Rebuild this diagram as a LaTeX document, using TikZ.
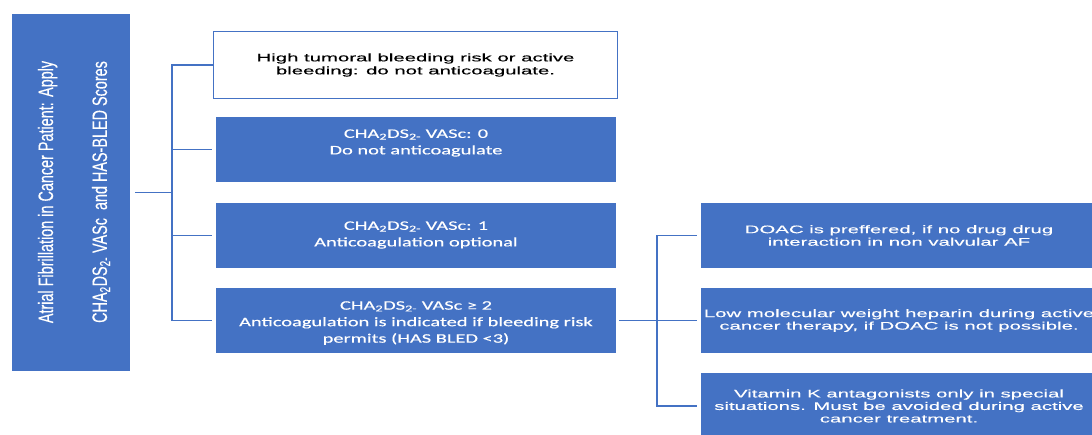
\documentclass[tikz,border=0pt]{standalone}
\usepackage{fontspec}
\setmainfont{Liberation Sans}
\newfontfamily\arialw[FakeStretch=1.85,FakeBold=0.3]{Liberation Sans}
\newfontfamily\caliw[FakeStretch=1.57,FakeBold=0.3]{Carlito}
\newfontfamily\rotfont[FakeBold=0.3]{Liberation Sans}
\definecolor{accblue}{HTML}{4472C4}
\begin{document}
\begin{tikzpicture}[x=1pt,y=-1pt,
  bluebox/.style={fill=accblue, draw=none, minimum width=400pt, minimum height=65pt, inner sep=0pt},
  btext/.style={inner sep=0pt, text=white, align=center, font=\caliw\fontsize{13}{16.5}\selectfont},
  whitebox/.style={draw=accblue, line width=1.5pt, fill=white, minimum width=404pt, minimum height=67pt, inner sep=0pt, text=black, align=center, font=\arialw\fontsize{11}{13}\selectfont},
  rbox/.style={fill=accblue, draw=none, minimum width=396pt, minimum height=65pt, inner sep=0pt, text=white, align=center, font=\arialw\fontsize{11}{12.5}\selectfont},
  conn/.style={draw=accblue, line width=1.5pt}
]
\useasboundingbox[fill=white] (0,0) rectangle (1092,434);
\clip (0,0) rectangle (1092,434);

% left box
\node[fill=accblue, minimum width=118pt, minimum height=357pt, inner sep=0pt] (lb) at (71,192.5) {};
\node[rotate=90, inner sep=0pt, text=white] (lbt) at (69.2,192) {\scalebox{1}[1.45]{\rotfont\fontsize{14.4}{37.2}\selectfont\begin{tabular}{@{}c@{}}Atrial Fibrillation in Cancer Patient: Apply\\CHA\textsubscript{2}DS\textsubscript{2-} VASc\ \ and HAS-BLED Scores\end{tabular}}};

% middle column
\node[whitebox] (b1) at (415.5,65) {High tumoral bleeding risk or active\\bleeding: do not anticoagulate.};
\node[bluebox] (b2) at (416,149.5) {};
\node[btext] (b2t) at (416,143) {CHA\textsubscript{2}DS\textsubscript{2-} VASc: 0\\Do not anticoagulate};
\node[bluebox] (b3) at (416,235.5) {};
\node[btext] (b3t) at (416,235) {CHA\textsubscript{2}DS\textsubscript{2-} VASc: 1\\Anticoagulation optional};
\node[bluebox] (b4) at (416,320.5) {};
\node[btext] (b4t) at (416,323) {CHA\textsubscript{2}DS\textsubscript{2-} VASc ≥ 2\\Anticoagulation is indicated if bleeding risk\\permits (HAS BLED <3)};

% right column
\node[rbox] (r1) at (899,235.5) {DOAC is preffered, if no drug drug\\interaction in non valvular AF};
\node[rbox] (r2) at (899,320.5) {Low molecular weight heparin during active\\cancer therapy, if DOAC is not possible.};
\node[rbox, minimum height=66pt] (r3) at (899,406) {Vitamin K antagonists only in special\\situations. Must be avoided during active\\cancer treatment.};

% connectors
\coordinate (jl) at (172,192.5);
\draw[conn, shorten <=5pt] (lb.east) -- (jl);
\draw[conn] (jl) |- (b1.west);
\draw[conn, shorten >=4pt] (jl) |- (b2.west);
\draw[conn, shorten >=4pt] (jl) |- (b3.west);
\draw[conn, shorten >=4pt] (jl) |- (b4.west);

\coordinate (jr) at (657,320.5);
\draw[conn, shorten <=3pt] (b4.east) -- (jr);
\draw[conn, shorten >=4pt] (jr) |- (r1.west);
\draw[conn, shorten >=4pt] (jr) -- (r2.west);
\draw[conn, shorten >=4pt] (jr) |- (r3.west);
\end{tikzpicture}
\end{document}
